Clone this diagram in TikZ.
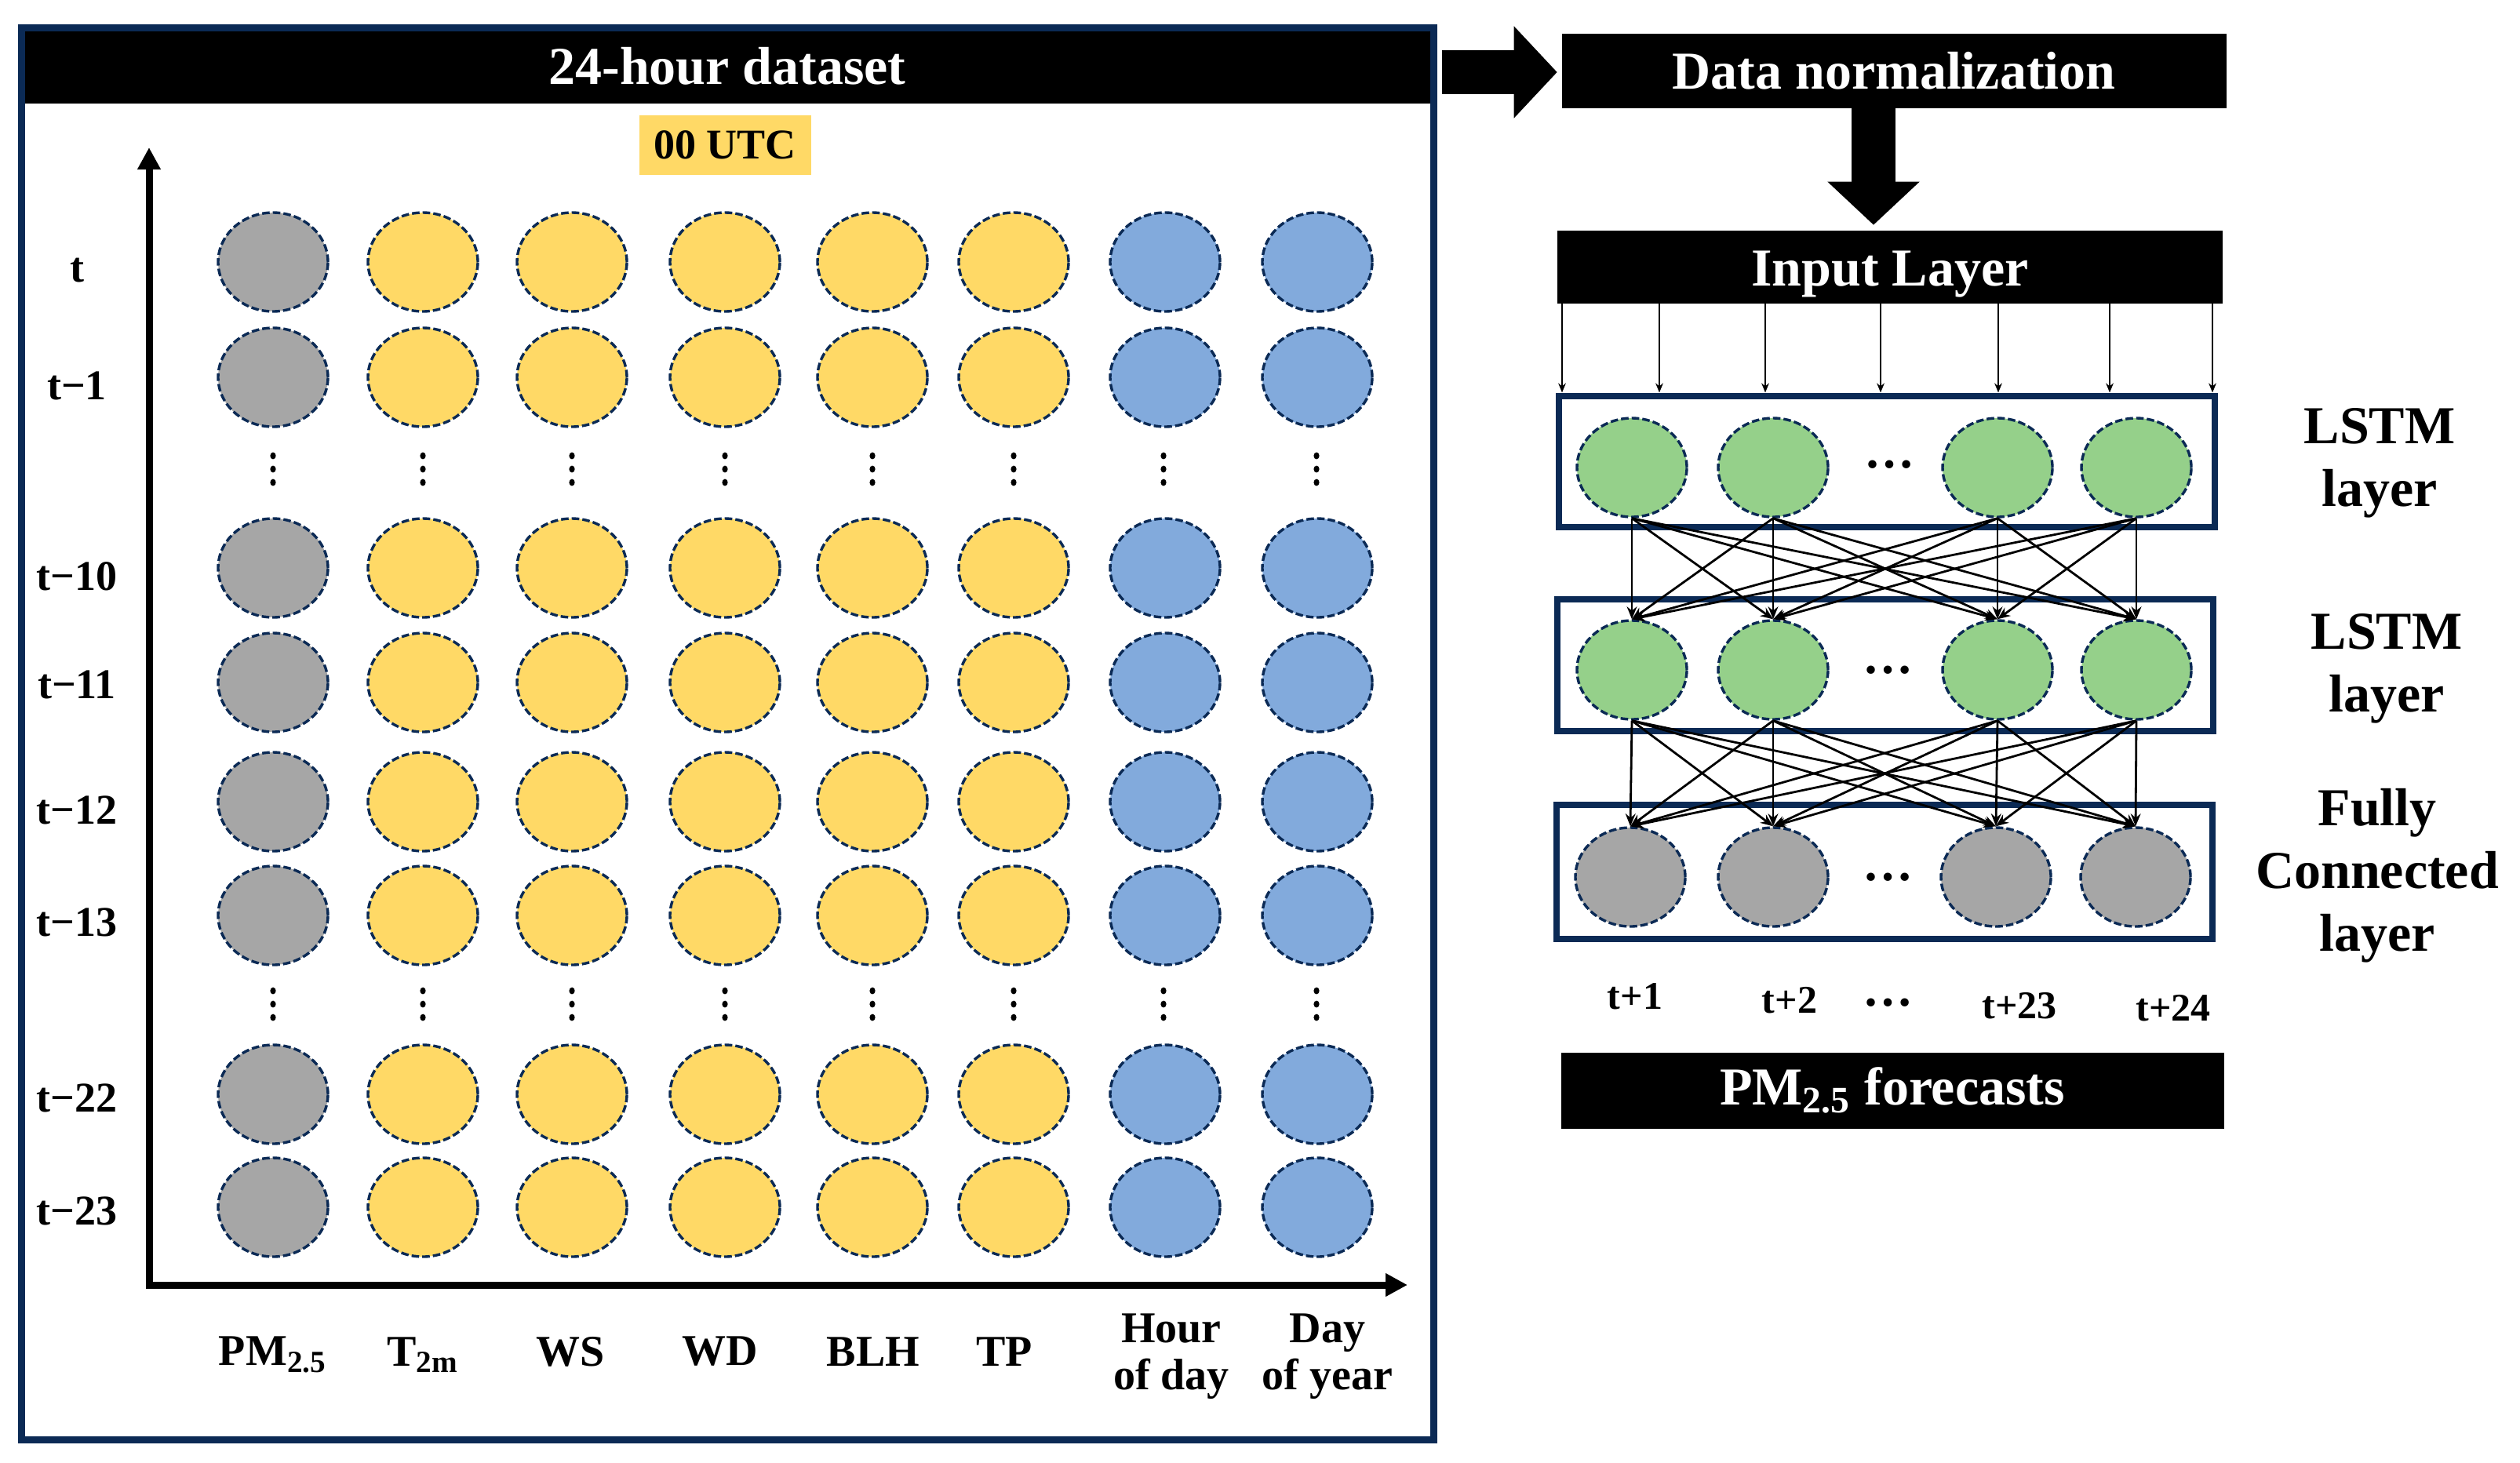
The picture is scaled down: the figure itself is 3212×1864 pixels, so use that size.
\documentclass[tikz,border=0pt]{standalone}
\usepackage{fontspec}
\setmainfont{Liberation Serif}
\usetikzlibrary{arrows.meta,shapes.geometric}
\definecolor{navy}{HTML}{0B2A55}
\definecolor{cgray}{HTML}{A6A6A6}
\definecolor{cyel}{HTML}{FFD966}
\definecolor{cblue}{HTML}{82AADC}
\definecolor{cgreen}{HTML}{95D08A}
\begin{document}
\begin{tikzpicture}[x=0.25pt,y=-0.25pt,
  cell/.style={ellipse, draw=navy, dash pattern=on 2.4pt off 1pt, line width=0.85pt,
    minimum width=35pt, minimum height=31.5pt, inner sep=0pt},
  blackbar/.style={fill=black, text=white, inner sep=0pt,
    font=\fontsize{17}{20}\selectfont\bfseries},
  layerbox/.style={draw=navy, line width=2pt, minimum width=209pt, inner sep=0pt},
  rowlab/.style={font=\fontsize{13.5}{16}\selectfont\bfseries, inner sep=0pt},
  collab/.style={font=\fontsize{14}{15}\selectfont\bfseries, inner sep=0pt, align=center},
  sidelab/.style={font=\fontsize{17}{20}\selectfont\bfseries, inner sep=0pt, align=center},
  tlab/.style={font=\fontsize{12.5}{15}\selectfont\bfseries, inner sep=0pt},
  axis/.style={line width=2.25pt, line join=miter,
    {Triangle[length=7pt,width=7pt]}-{Triangle[length=7pt,width=7pt]}},
  bigarr/.style={line width=14pt, -{Triangle[length=13.75pt,width=28.5pt]}},
  net/.style={line width=0.7pt, -{Stealth[length=4pt,width=3.2pt]}},
  inarr/.style={line width=0.55pt, -{Stealth[length=3pt,width=2.4pt]}},
  dotlab/.style={font=\fontsize{16}{18}\selectfont\bfseries, inner sep=0pt}
]
\useasboundingbox (0,0) rectangle (3212,1864);

% ---------- left panel ----------
\node[blackbar, minimum width=450pt, minimum height=24pt] (title) at (927,84) {24-hour dataset};
\node[draw=navy, line width=2.25pt, minimum width=450pt, minimum height=450pt, inner sep=0pt] (frame) at (927,935) {};
\node[fill=cyel, minimum width=54.75pt, minimum height=19pt, inner sep=0pt,
  font=\fontsize{13.5}{16}\selectfont\bfseries] (utc) at (924,185) {00 UTC};

\coordinate (o) at (190,1638);
\coordinate (ytip) at (190,188);
\coordinate (xtip) at (1794,1638);
\draw[axis] (ytip) -- (o) -- (xtip);

\foreach \c/\x/\col in {1/348/cgray,2/539/cyel,3/729/cyel,4/924/cyel,5/1112/cyel,6/1292/cyel,7/1485/cblue,8/1679/cblue}{
  \foreach \r/\y in {1/334,2/481,3/724,4/870,5/1022,6/1167,7/1395,8/1539}{
    \node[cell, fill=\col] (g\c-\r) at (\x,\y) {};
  }
}
\foreach \x in {348,539,729,924,1112,1292,1483,1678}{
  \foreach \y in {581,598,615,1263,1280,1297}{
    \fill (\x,\y) ellipse[x radius=0.9pt, y radius=1.1pt];
  }
}
\foreach \y/\t [count=\i] in {345/t,492/t−1,735/t−10,873/t−11,1033/t−12,1176/t−13,1400/t−22,1544/t−23}{
  \node[rowlab] (rl\i) at (98,\y) {\t};
}
\node[collab] (cl1) at (348,1727) {PM\textsubscript{2.5}};
\node[collab] (cl2) at (539,1727) {T\textsubscript{2m}};
\node[collab] (cl3) at (727,1723) {WS};
\node[collab] (cl4) at (918,1723) {WD};
\node[collab] (cl5) at (1113,1723) {BLH};
\node[collab] (cl6) at (1280,1723) {TP};
\node[collab] (cl7) at (1493,1729) {Hour\\of day};
\node[collab] (cl8) at (1692,1729) {Day\\of year};

% ---------- right panel ----------
\node[blackbar, minimum width=211.75pt, minimum height=23.75pt] (dn) at (2414,90) {Data normalization};
\node[blackbar, minimum width=212pt, minimum height=23.25pt] (il) at (2409,340) {};
\node[blackbar] (ilt) at (2409,350) {Input Layer};
\node[layerbox, minimum height=41.75pt] (lb1) at (2405,588) {};
\node[layerbox, minimum height=42pt] (lb2) at (2403,848) {};
\node[layerbox, minimum height=42.75pt] (lb3) at (2402,1111) {};
\node[blackbar, minimum width=211.25pt, minimum height=24.25pt] (pf) at (2412,1390) {PM\textsubscript{2.5} forecasts};

\coordinate (ta) at (1838,92);
\draw[bigarr, shorten >=1.25pt] (ta) -- (ta -| dn.west);
\coordinate (da) at (2388,0);
\draw[bigarr, shorten >=1.5pt] (da |- dn.south) -- (da |- il.north);

\foreach \x [count=\i] in {1991,2115,2250,2397,2547,2689,2820}{
  \coordinate (ia\i) at (\x,0);
  \draw[inarr] (ia\i |- il.south) -- (ia\i |- lb1.north);
}

\foreach \x [count=\i] in {2080,2260,2546,2723}{
  \node[cell, fill=cgreen] (la\i) at (\x,596) {};
  \node[cell, fill=cgreen] (lm\i) at (\x,854) {};
}
\foreach \x [count=\i] in {2078,2260,2544,2722}{
  \node[cell, fill=cgray] (lf\i) at (\x,1118) {};
}
\foreach \i in {1,...,4}{
  \foreach \j in {1,...,4}{
    \draw[net] (la\i.south) -- (lm\j.north);
    \draw[net] (lm\i.south) -- (lf\j.north);
  }
}
\node[dotlab] (d1) at (2408,592) {…};
\node[dotlab] (d2) at (2406,854) {…};
\node[dotlab] (d3) at (2406,1118) {…};

\node[tlab] (tp1) at (2084,1270) {t+1};
\node[tlab] (tp2) at (2281,1275) {t+2};
\node[dotlab] (tpd) at (2406,1278) {…};
\node[tlab] (tp3) at (2574,1282) {t+23};
\node[tlab] (tp4) at (2770,1285) {t+24};

\node[sidelab] (s1) at (3033,590) {LSTM\\layer};
\node[sidelab] (s2) at (3042,852) {LSTM\\layer};
\node[sidelab] (s3) at (3030,1116) {Fully\\Connected\\layer};
\end{tikzpicture}
\end{document}
